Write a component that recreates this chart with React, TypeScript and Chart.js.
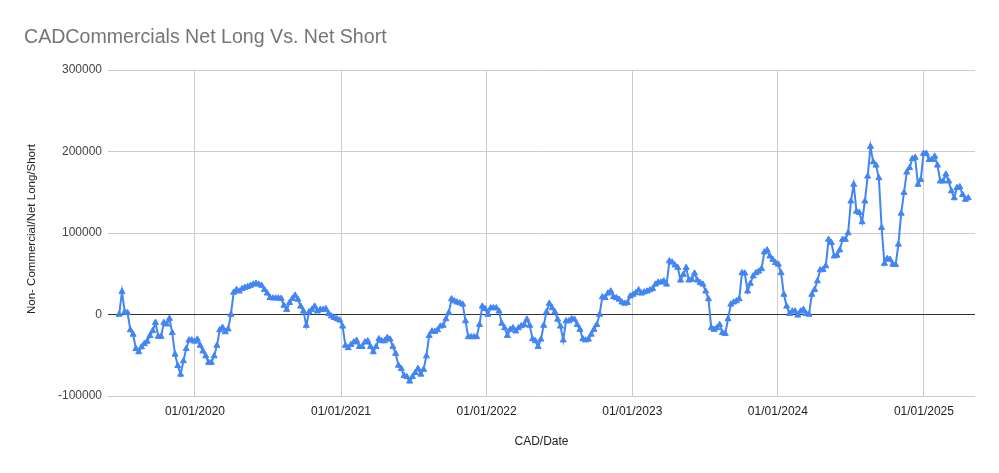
import { useEffect, useRef } from "react";
import { Chart, registerables } from "chart.js";

Chart.register(...registerables);

const TITLE = "CADCommercials Net Long Vs. Net Short";
const X_TITLE = "CAD/Date";
const Y_TITLE = "Non- Commercial/Net Long/Short";

const FIRST_REPORT = "2019-06-25";
const WEEK_MS = 7 * 86400000;
const X_MIN = "2019-05-28";
const X_MAX = "2025-05-09";
const xTickYears = [2020, 2021, 2022, 2023, 2024, 2025];
const yTicks = [-100000, 0, 100000, 200000, 300000];

// Weekly net positions
const net2019 = [
  0, 28000, 3000, 2000, -19000, -24500, -42000, -46000, -40000, -36000,
  -33000, -26000, -20000, -10000, -27000, -27000, -10000, -12000, -5000, -22500,
  -49000, -63000, -73500, -57000, -42000, -31500, -31500, -33000,
];
const net2020 = [
  -30500, -38000, -45000, -51000, -59000, -59000, -51000, -38000, -19000, -16000,
  -21500, -18000, 0, 27000, 30500, 28500, 31500, 33000, 34000, 35500,
  37000, 38000, 37000, 35500, 30500, 26000, 20500, 20000, 20000, 20000,
  19500, 11000, 6000, 14500, 19500, 23500, 18500, 10000, 4000, -13500,
  3000, 6000, 10000, 4000, 6000, 6000, 7000, 1000, -2000, -4000,
  -5500, -7000,
];
const net2021 = [
  -14500, -38000, -41000, -37000, -34000, -32000, -39500, -39500, -34000, -32500,
  -39500, -46000, -39500, -30000, -32500, -32500, -28500, -30500, -39500, -48000,
  -62500, -66500, -75000, -76500, -82000, -76500, -71500, -66500, -73500, -67500,
  -51000, -26000, -20500, -21000, -19000, -14500, -13500, -5500, 2000, 19000,
  16500, 15000, 14000, 12500, -8000, -27500, -27500, -27500, -27500, -12500,
  10000, 7000,
];
const net2022 = [
  0, 8000, 8000, 8000, 4000, -11000, -16500, -26000, -18500, -16500,
  -20500, -16500, -14000, -12500, -6000, -13500, -30000, -32500, -39500, -30500,
  -13500, 3000, 13500, 8000, 3000, -6000, -14500, -31500, -8000, -8000,
  -5500, -6000, -12500, -18500, -30000, -31500, -30500, -24500, -18500, -12500,
  0, 21500, 20500, 26000, 28500, 21500, 20500, 18500, 15000, 13500,
  14500, 22500,
];
const net2023 = [
  24500, 26500, 30000, 26000, 27500, 28500, 30000, 31500, 37000, 39500,
  39500, 41000, 37000, 65500, 64000, 60500, 57500, 42000, 49000, 57500,
  42000, 43000, 50500, 42000, 39000, 37000, 28500, 19000, -16500, -18500,
  -16500, -12500, -22500, -23500, -5500, 12500, 15000, 16500, 19000, 51000,
  50500, 28500, 38000, 47000, 51000, 53000, 56000, 76500, 79000, 71500,
  67500, 63500,
];
const net2024 = [
  61500, 51000, 24500, 10000, 1000, 4000, 4000, -1000, 4000, 6000,
  1000, 0, 24500, 30500, 41000, 54500, 55000, 59500, 92000, 88000,
  71500, 72500, 79000, 92000, 92000, 100000, 139000, 159500, 126500, 125000,
  113500, 139000, 169500, 206000, 187000, 183000, 167500, 106500, 62500, 68500,
  67500, 61500, 61000, 86000, 124000, 149500, 174500, 180000, 191000, 192500,
  159500, 165500,
];
const net2025 = [
  197500, 197500, 190000, 190000, 194000, 183000, 163500, 163500, 172000, 163500,
  151500, 143000, 155500, 156500, 147000, 141000, 143000,
];

const FONT = '"Liberation Sans", Arial, Helvetica, sans-serif';

const titlesPlugin = {
  id: "sheetTitles",
  afterDraw(chart: any) {
    const ctx = chart.ctx as CanvasRenderingContext2D;
    const a = chart.chartArea;
    ctx.save();
    ctx.textBaseline = "alphabetic";
    ctx.fillStyle = "#757575";
    ctx.font = `19.6px ${FONT}`;
    ctx.textAlign = "left";
    ctx.fillText(TITLE, 24, 43);
    ctx.fillStyle = "#222222";
    ctx.font = `12px ${FONT}`;
    ctx.textAlign = "center";
    ctx.fillText(X_TITLE, (a.left + a.right) / 2, 445);
    ctx.font = `11.5px ${FONT}`;
    ctx.translate(35, (a.top + a.bottom) / 2 - 4);
    ctx.rotate(-Math.PI / 2);
    ctx.fillText(Y_TITLE, 0, 0);
    ctx.restore();
  },
};

export default function App() {
  const canvasRef = useRef<HTMLCanvasElement | null>(null);

  useEffect(() => {
    const canvas = canvasRef.current;
    if (!canvas) return;
    const values = [
      ...net2019,
      ...net2020,
      ...net2021,
      ...net2022,
      ...net2023,
      ...net2024,
      ...net2025,
    ];
    const start = Date.parse(FIRST_REPORT);
    const points = values.map((v, i) => ({ x: start + i * WEEK_MS, y: v }));
    const tickFont = { family: FONT, size: 12 };

    const chart = new Chart(canvas, {
      type: "line",
      data: {
        datasets: [
          {
            label: "Net Long/Short",
            data: points,
            borderColor: "#4285F4",
            backgroundColor: "#4285F4",
            borderWidth: 2,
            pointStyle: "triangle",
            pointRadius: 3.5,
            pointBorderWidth: 1,
            pointHoverRadius: 3.5,
            tension: 0,
          },
        ],
      },
      options: {
        animation: false,
        responsive: false,
        maintainAspectRatio: false,
        events: [],
        layout: { padding: { top: 70, right: 24, left: 0, bottom: 0 } },
        plugins: {
          legend: { display: false },
          tooltip: { enabled: false },
          title: { display: false },
        },
        scales: {
          x: {
            type: "linear",
            min: Date.parse(X_MIN),
            max: Date.parse(X_MAX),
            afterBuildTicks: (axis: any) => {
              axis.ticks = xTickYears.map((y) => ({ value: Date.UTC(y, 0, 1) }));
            },
            afterFit: (axis: any) => {
              axis.height = 77;
            },
            ticks: {
              autoSkip: false,
              maxRotation: 0,
              padding: 8,
              color: "#222222",
              font: tickFont,
              callback: (v: any) => "01/01/" + new Date(Number(v)).getUTCFullYear(),
            },
            grid: { color: "#cccccc", drawTicks: false },
            border: { display: false },
          },
          y: {
            min: -100000,
            max: 300000,
            afterBuildTicks: (axis: any) => {
              axis.ticks = yTicks.map((v) => ({ value: v }));
            },
            afterFit: (axis: any) => {
              axis.width = 108;
            },
            ticks: {
              padding: 6,
              color: "#444444",
              font: tickFont,
              callback: (v: any) => String(v),
            },
            grid: {
              color: (c: any) => (c.tick && c.tick.value === 0 ? "#333333" : "#cccccc"),
              drawTicks: false,
            },
            border: { display: false },
          },
        },
      },
      plugins: [titlesPlugin],
    });
    return () => chart.destroy();
  }, []);

  return (
    <div style={{ position: "absolute", left: 0, top: 0, width: 999, height: 473, background: "#fff" }}>
      <canvas ref={canvasRef} width={999} height={473} />
    </div>
  );
}
